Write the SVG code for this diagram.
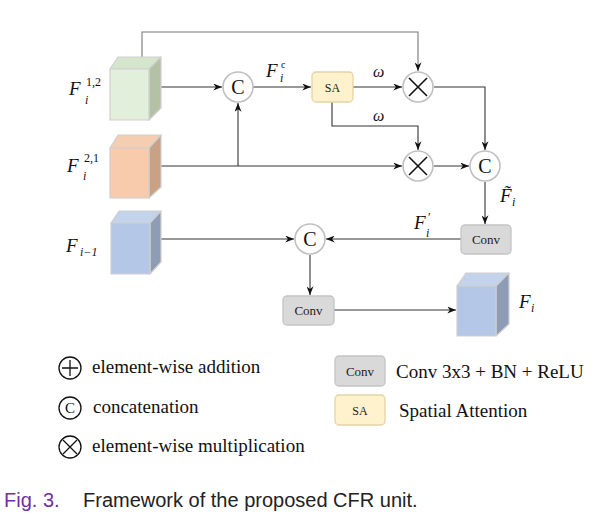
<svg xmlns="http://www.w3.org/2000/svg" width="593" height="524" viewBox="0 0 593 524">
<style>
.ln{fill:none;stroke:#333;stroke-width:1.1}
.lnl{fill:none;stroke:#777;stroke-width:1.1}
.op{fill:#fff;stroke:#c0c0c0;stroke-width:1.6}
.x{stroke:#111;stroke-width:1.6;fill:none}
.ct{font-family:"Liberation Serif",serif;font-size:20px;fill:#111;text-anchor:middle}
.box{stroke-width:1.3}
.conv{fill:#d9d9d9;stroke:#c4c4c4}
.sa{fill:#fff2cc;stroke:#e3d4a6}
.bt{font-family:"Liberation Serif",serif;font-size:13px;fill:#222;text-anchor:middle}
.cf{font-family:"Liberation Serif",serif;font-style:italic;font-size:19px;fill:#111}
.sub{font-family:"Liberation Serif",serif;font-style:italic;font-size:12px;fill:#111}
.sup{font-family:"Liberation Serif",serif;font-size:12px;fill:#111}
.om{font-family:"Liberation Serif",serif;font-style:italic;font-size:16px;fill:#111}
.lg{font-family:"Liberation Serif",serif;font-size:19px;fill:#111}
.edge{stroke:#cfcfcf;stroke-width:1.2;stroke-linejoin:round}
.lc{fill:#fff;stroke:#111;stroke-width:1.3}
</style>
<defs>
<marker id="ah" viewBox="0 0 10 8" refX="10" refY="4" markerWidth="9" markerHeight="7" markerUnits="userSpaceOnUse" orient="auto">
<path d="M0,0 L10,4 L0,8 L3,4 z" fill="#111"/>
</marker>
</defs>

<g id="connectors">
<path class="ln" d="M161 87 H222" marker-end="url(#ah)"/>
<path class="ln" d="M161 166 H402" marker-end="url(#ah)"/>
<path class="ln" d="M238 166 V103" marker-end="url(#ah)"/>
<path class="ln" d="M253 87 H311" marker-end="url(#ah)"/>
<path class="ln" d="M353 87 H402" marker-end="url(#ah)"/>
<path class="lnl" d="M142 57 V32 H418 V71" marker-end="url(#ah)"/>
<path class="ln" d="M332 102 V126 H418 V150" marker-end="url(#ah)"/>
<path class="ln" d="M434 87 H485 V150" marker-end="url(#ah)"/>
<path class="ln" d="M434 166 H469" marker-end="url(#ah)"/>
<path class="ln" d="M485 182 V224" marker-end="url(#ah)"/>
<path class="ln" d="M461 239 H326" marker-end="url(#ah)"/>
<path class="ln" d="M161 239 H294" marker-end="url(#ah)"/>
<path class="ln" d="M310 255 V295" marker-end="url(#ah)"/>
<path class="ln" d="M334 310 H456" marker-end="url(#ah)"/>
</g>

<g id="cube-f12">
<polygon class="edge" points="110,69 118,57 161,57 149,69" fill="#d6e6cc"/>
<polygon class="edge" points="149,69 161,57 161,108 149,120" fill="#b3c2a5"/>
<rect class="edge" x="110" y="69" width="39" height="51" fill="#e2efda"/>
</g>
<g id="label-f12">
<text class="cf" x="69" y="95">F</text>
<text class="sup" x="86" y="86">1,2</text>
<text class="sub" x="85" y="104">i</text>
</g>

<g id="cube-f21">
<polygon class="edge" points="110,148 118,135 161,135 149,148" fill="#f5cdb0"/>
<polygon class="edge" points="149,148 161,135 161,187 149,198" fill="#c9a286"/>
<rect class="edge" x="110" y="148" width="39" height="50" fill="#f8cbad"/>
</g>
<g id="label-f21">
<text class="cf" x="67" y="172">F</text>
<text class="sup" x="84" y="162">2,1</text>
<text class="sub" x="83" y="180">i</text>
</g>

<g id="cube-fi1">
<polygon class="edge" points="111,223 119,211 161,211 150,223" fill="#c3d3ec"/>
<polygon class="edge" points="150,223 161,211 161,262 150,274" fill="#8e9cb6"/>
<rect class="edge" x="111" y="223" width="39" height="51" fill="#b4c7e7"/>
</g>
<g id="label-fi1">
<text class="cf" x="66" y="252">F</text>
<text class="sub" x="80" y="256">i−1</text>
</g>

<g id="concat1">
<circle class="op" cx="238" cy="87" r="15"/>
<text class="ct" x="238" y="94">C</text>
</g>
<g id="label-fc">
<text class="cf" x="266" y="77">F</text>
<text class="sup" x="281" y="68" style="font-size:10px">c</text>
<text class="sub" x="280" y="82">i</text>
</g>

<g id="sa">
<rect class="box sa" x="312" y="72" width="41" height="30" rx="4"/>
<text class="bt" x="332.5" y="92" style="font-size:12px">SA</text>
</g>
<text class="om" x="373" y="77">ω</text>
<text class="om" x="373" y="121">ω</text>

<g id="mul1">
<circle class="op" cx="418" cy="87" r="15"/>
<path class="x" d="M409 78 L427 96 M427 78 L409 96"/>
</g>
<g id="mul2">
<circle class="op" cx="418" cy="166" r="15"/>
<path class="x" d="M409 157 L427 175 M427 157 L409 175"/>
</g>

<g id="concat2">
<circle class="op" cx="485" cy="166" r="15"/>
<text class="ct" x="485" y="173">C</text>
</g>
<g id="label-ftilde">
<text class="cf" x="500" y="202">F̃</text>
<text class="sub" x="512" y="206">i</text>
</g>

<g id="conv1">
<rect class="box conv" x="461" y="225" width="50" height="29" rx="4"/>
<text class="bt" x="486" y="244">Conv</text>
</g>
<g id="label-fprime">
<text class="cf" x="414" y="229">F</text>
<text class="sup" x="428" y="221">′</text>
<text class="sub" x="426" y="237">i</text>
</g>

<g id="concat3">
<circle class="op" cx="310" cy="239" r="15"/>
<text class="ct" x="310" y="246">C</text>
</g>

<g id="conv2">
<rect class="box conv" x="283" y="296" width="51" height="29" rx="4"/>
<text class="bt" x="308.5" y="315">Conv</text>
</g>

<g id="cube-fi">
<polygon class="edge" points="457,286 466,273 509,273 496,286" fill="#c3d3ec"/>
<polygon class="edge" points="496,286 509,273 509,324 496,336" fill="#8e9cb6"/>
<rect class="edge" x="457" y="286" width="39" height="50" fill="#b4c7e7"/>
</g>
<g id="label-fi">
<text class="cf" x="519" y="308">F</text>
<text class="sub" x="531" y="312">i</text>
</g>

<g id="legend">
<circle class="lc" cx="70" cy="368" r="11"/>
<path class="x" d="M62 368 H78 M70 360 V376" style="stroke-width:1.3"/>
<text class="lg" x="92" y="373">element-wise addition</text>
<circle class="lc" cx="70" cy="408" r="11"/>
<text x="70" y="413" style="font-family:'Liberation Serif',serif;font-size:15px;text-anchor:middle;fill:#111">C</text>
<text class="lg" x="93" y="413">concatenation</text>
<circle class="lc" cx="70" cy="447" r="11"/>
<path class="x" d="M63 440 L77 454 M77 440 L63 454" style="stroke-width:1.3"/>
<text class="lg" x="92" y="452">element-wise multiplication</text>
<rect class="box conv" x="335" y="356" width="50" height="30" rx="4"/>
<text class="bt" x="360" y="376">Conv</text>
<text class="lg" x="396" y="378">Conv 3x3 + BN + ReLU</text>
<rect class="box sa" x="335" y="395" width="50" height="30" rx="4"/>
<text class="bt" x="360" y="415" style="font-size:12px">SA</text>
<text class="lg" x="399" y="417">Spatial Attention</text>
</g>

<g id="caption">
<text x="4" y="507" style="font-family:'Liberation Sans',sans-serif;font-size:20px;fill:#7030a0">Fig. 3.</text>
<text x="83" y="507" style="font-family:'Liberation Sans',sans-serif;font-size:20px;fill:#222">Framework of the proposed CFR unit.</text>
</g>
</svg>
